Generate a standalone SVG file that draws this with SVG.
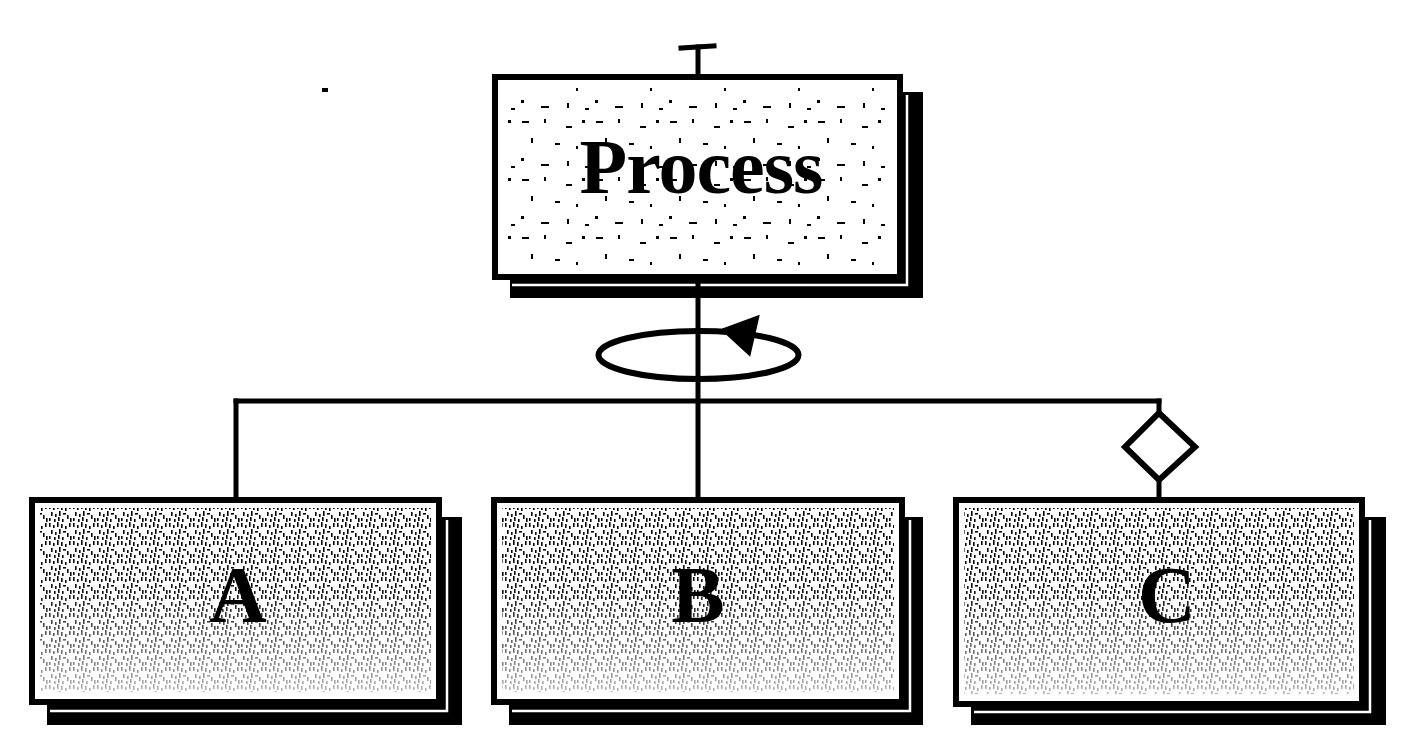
<svg xmlns="http://www.w3.org/2000/svg" width="1413" height="756" viewBox="0 0 1413 756">
  <style>
    .box { fill: #ffffff; stroke: #000000; stroke-width: 6; }
    .shadow { fill: #000000; }
    .gap { fill: none; stroke: #ffffff; stroke-width: 2.5; }
    .line { fill: none; stroke: #000000; stroke-width: 5; stroke-linecap: square; }
    .label { font-family: "Liberation Serif", "Times New Roman", serif; font-weight: bold; fill: #000000; text-anchor: middle; }
  </style>
  <defs>
    <pattern id="dense" width="24" height="18" patternUnits="userSpaceOnUse">
      <rect x="1" y="1" width="1.6" height="4" fill="#000"/>
      <rect x="5" y="3" width="1.6" height="3" fill="#000"/>
      <rect x="9" y="0" width="1.6" height="5" fill="#000"/>
      <rect x="13" y="2" width="1.6" height="4" fill="#000"/>
      <rect x="17" y="4" width="1.6" height="3" fill="#000"/>
      <rect x="21" y="1" width="1.6" height="4" fill="#000"/>
      <rect x="3" y="8" width="1.6" height="4" fill="#000"/>
      <rect x="7" y="10" width="1.6" height="3" fill="#000"/>
      <rect x="11" y="7" width="1.6" height="5" fill="#000"/>
      <rect x="15" y="9" width="3" height="1.6" fill="#000"/>
      <rect x="19" y="11" width="1.6" height="4" fill="#000"/>
      <rect x="1" y="14" width="1.6" height="3" fill="#000"/>
      <rect x="6" y="15" width="1.6" height="3" fill="#000"/>
      <rect x="10" y="13" width="1.6" height="4" fill="#000"/>
      <rect x="14" y="15" width="1.6" height="3" fill="#000"/>
      <rect x="22" y="14" width="1.6" height="4" fill="#000"/>
    </pattern>
    <pattern id="light" width="74" height="58" patternUnits="userSpaceOnUse">
      <rect x="4" y="5" width="7" height="2" fill="#000"/>
      <rect x="26" y="3" width="2" height="4" fill="#000"/>
      <rect x="48" y="10" width="6" height="2" fill="#000"/>
      <rect x="64" y="4" width="3" height="3" fill="#000"/>
      <rect x="13" y="22" width="2" height="5" fill="#000"/>
      <rect x="37" y="27" width="5" height="2" fill="#000"/>
      <rect x="58" y="30" width="2" height="3" fill="#000"/>
      <rect x="3" y="42" width="3" height="3" fill="#000"/>
      <rect x="23" y="48" width="8" height="2" fill="#000"/>
      <rect x="49" y="45" width="2" height="5" fill="#000"/>
      <rect x="67" y="50" width="4" height="2" fill="#000"/>
    </pattern>
    <linearGradient id="fadeGrad" x1="0" y1="0" x2="0" y2="1">
      <stop offset="0" stop-color="#ffffff"/>
      <stop offset="0.45" stop-color="#eeeeee"/>
      <stop offset="1" stop-color="#4a4a4a"/>
    </linearGradient>
    <mask id="fade" maskContentUnits="objectBoundingBox">
      <rect x="0" y="0" width="1" height="1" fill="url(#fadeGrad)"/>
    </mask>
  </defs>

  <rect x="0" y="0" width="1413" height="756" fill="#ffffff"/>
  <rect x="322" y="88" width="6" height="4" fill="#000"/>

  <g id="node-process">
    <rect class="shadow" x="510" y="92" width="413" height="206"/>
    <polyline class="gap" points="907,95 907,285 512,285"/>
    <rect class="box" x="495" y="77" width="405" height="200"/>
    <rect x="505" y="87" width="385" height="178" fill="url(#light)"/>
    <text class="label" x="701" y="193" font-size="78" letter-spacing="-1">Process</text>
  </g>

  <g id="node-a">
    <rect class="shadow" x="47" y="517" width="415" height="208"/>
    <polyline class="gap" points="447,520 447,711 50,711"/>
    <rect class="box" x="32" y="500" width="407" height="202"/>
    <rect x="40" y="508" width="391" height="184" fill="url(#dense)" mask="url(#fade)"/>
    <text class="label" x="238" y="622" font-size="80">A</text>
  </g>

  <g id="node-b">
    <rect class="shadow" x="509" y="517" width="414" height="208"/>
    <polyline class="gap" points="910,520 910,711 512,711"/>
    <rect class="box" x="494" y="500" width="408" height="202"/>
    <rect x="502" y="508" width="392" height="184" fill="url(#dense)" mask="url(#fade)"/>
    <text class="label" x="698" y="622" font-size="80">B</text>
  </g>

  <g id="node-c">
    <rect class="shadow" x="971" y="517" width="415" height="208"/>
    <polyline class="gap" points="1370,520 1370,712 974,712"/>
    <rect class="box" x="956" y="500" width="406" height="204"/>
    <rect x="964" y="508" width="390" height="186" fill="url(#dense)" mask="url(#fade)"/>
    <text class="label" x="1167" y="622" font-size="80">C</text>
  </g>

  <g id="connectors">
    <path class="line" d="M681,48 L714,46"/>
    <path class="line" d="M698,47 V74"/>
    <path class="line" d="M698,280 V497"/>
    <path class="line" d="M236,401 H1159"/>
    <path class="line" d="M236,401 V497"/>
    <path class="line" d="M1159,401 V413"/>
    <path class="line" d="M1159,480 V497"/>
    <polygon points="1159,413 1195,447 1159,480 1125,447" fill="#ffffff" stroke="#000000" stroke-width="6" stroke-linejoin="miter"/>
    <ellipse cx="698.5" cy="355" rx="100" ry="24" fill="none" stroke="#000000" stroke-width="6"/>
    <polygon points="757,318 724,330 749,353" fill="#000000" stroke="#000000" stroke-width="4" stroke-linejoin="miter"/>
  </g>
</svg>
